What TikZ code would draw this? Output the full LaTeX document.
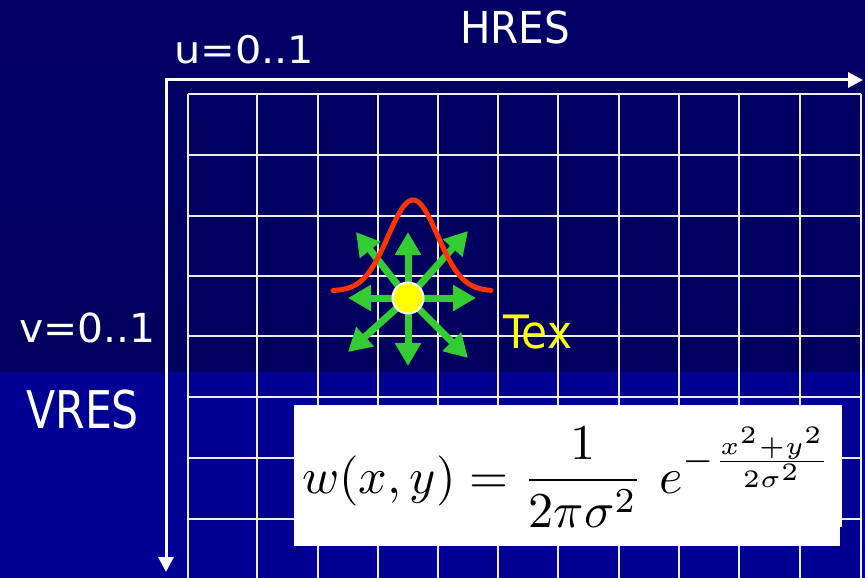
\documentclass[tikz,border=0pt]{standalone}
\usepackage{fontspec}
\setmainfont{DejaVu Sans}
\usepackage{graphicx}
\usepackage{amsmath}
\usetikzlibrary{arrows.meta}
\definecolor{navytop}{HTML}{000066}
\definecolor{navymid}{HTML}{00005E}
\definecolor{navybot}{HTML}{000092}
\definecolor{gridcol}{HTML}{ECECF2}
\definecolor{garrowcol}{HTML}{33CC33}
\definecolor{gausscol}{HTML}{FF3300}
\definecolor{dotcol}{HTML}{FFFF00}
\tikzset{
  gridline/.style={draw=gridcol, line width=2pt},
  axisarrow/.style={draw=white, line width=3pt, -{Triangle[width=15pt,length=15pt]}},
  garrow/.style={draw=garrowcol, line width=7pt, -{Triangle[width=25pt,length=23pt]}},
  label/.style={text=white, inner sep=0pt, anchor=base west},
}
\begin{document}
\begin{tikzpicture}[x=1pt,y=-1pt]
\useasboundingbox (0,0) rectangle (865,578);
% background
\shade[top color=navytop, bottom color=navymid] (0,0) rectangle (865,372);
\fill[navybot] (0,372) rectangle (865,578);
% grid
\foreach \gx in {188,257,318,378,438,498,558,619,679,739,800,861}
  \draw[gridline] (\gx,94) -- (\gx,578);
\foreach \gy in {94,155,216,276,336,397,458,519}
  \draw[gridline] (188,\gy) -- (861,\gy);
% axes
\coordinate (O) at (166,80);
\coordinate (Hend) at (863,80);
\coordinate (Vend) at (166,572);
\draw[axisarrow] ([xshift=-1.5pt]O) -- (Hend);
\draw[axisarrow] (O) -- (Vend);
% labels
\node[label] (u) at (174,64) {\fontsize{38}{40}\selectfont\scalebox{1.09}[1]{u=0..1}};
\node[label, anchor=base] (hres) at (515,44) {\fontsize{44}{46}\selectfont\scalebox{0.92}[1]{HRES}};
\node[label] (v) at (19,342) {\fontsize{40}{42}\selectfont\scalebox{1.02}[1]{v=0..1}};
\node[label] (vres) at (26,428) {\fontsize{52}{54}\selectfont\scalebox{0.82}[1]{VRES}};
% green arrows
\coordinate (C) at (408,298);
\coordinate (tU) at (408,232);
\coordinate (tD) at (408,366);
\coordinate (tL) at (348,298);
\coordinate (tR) at (476,298);
\coordinate (tUL) at (356,232);
\coordinate (tUR) at (468,231);
\coordinate (tDL) at (348,352);
\coordinate (tDR) at (468,358);
\foreach \t in {tU,tD,tL,tR,tUL,tUR,tDL,tDR}
  \draw[garrow] (C) -- (\t);
% gaussian
\draw[gausscol, line width=5pt, line cap=round] plot[domain=333:491, samples=90, smooth]
  (\x, {291 - 91*exp(-((\x-413)/35)^2)});
% texel
\node[circle, fill=dotcol, draw=white, line width=2pt, minimum size=31pt, inner sep=0pt] (dot) at (C) {};
\node[label, text=dotcol] (tex) at (503,348) {\fontsize{46}{48}\selectfont\scalebox{0.92}[1]{Tex}};
% formula
\fill[white] (294,405) rectangle (842,527);
\fill[white] (294,405) rectangle (840,546);
\node[inner sep=0pt, anchor=base west] (formula) at (302,493)
  {\resizebox{530pt}{!}{$\displaystyle w(x,y) = \frac{1}{2\pi\sigma^2}\ e^{-\frac{x^2+y^2}{2\sigma^2}}$}};
\end{tikzpicture}
\end{document}
